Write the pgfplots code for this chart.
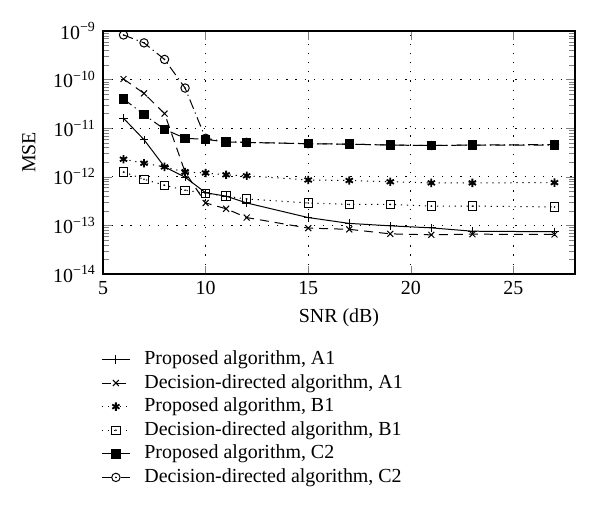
\documentclass[border=0pt]{standalone}
\usepackage{fontspec}
\setmainfont{Liberation Serif}
\usepackage{pgfplots}
\pgfplotsset{compat=1.18}

\pgfdeclareplotmark{sqdot}{%
  \pgfpathrectangle{\pgfpoint{-\pgfplotmarksize}{-\pgfplotmarksize}}{\pgfpoint{2\pgfplotmarksize}{2\pgfplotmarksize}}%
  \pgfusepathqstroke
  \pgfpathcircle{\pgfpointorigin}{0.45pt}\pgfusepathqfill}
\pgfdeclareplotmark{circdot}{%
  \pgfpathcircle{\pgfpointorigin}{\pgfplotmarksize}%
  \pgfusepathqstroke
  \pgfpathcircle{\pgfpointorigin}{0.45pt}\pgfusepathqfill}

\pgfplotsset{
  legend image code/.code={%
    \draw[mark repeat=2,mark phase=2,#1] plot coordinates {(0bp,0bp)(7bp,0bp)(14bp,0bp)};}
}

\begin{document}
\begin{tikzpicture}
\path[use as bounding box] (-51.5bp,-120bp) rectangle (248.5bp,137bp);
\begin{axis}[
  scale only axis,
  width=236bp, height=121.5bp,
  ymode=log,
  xmin=5, xmax=28,
  ymin=1e-14, ymax=1e-9,
  xtick={5,10,15,20,25},
  ytick={1e-14,1e-13,1e-12,1e-11,1e-10,1e-9},
  yticklabels={10\textsuperscript{\char"2212 14},10\textsuperscript{\char"2212 13},10\textsuperscript{\char"2212 12},10\textsuperscript{\char"2212 11},10\textsuperscript{\char"2212 10},10\textsuperscript{\char"2212 9}},
  /pgf/number format/assume math mode=true,
  grid=major,
  major grid style={black, line width=0.4pt, dash pattern=on 0.6pt off 4pt},
  axis line style={line width=0.7pt},
  xlabel={SNR (dB)},
  ylabel={MSE},
  ylabel style={xshift=0bp, yshift=2bp},
  every axis plot/.append style={black, line width=0.5pt, mark size=2.1bp},
  legend style={at={(0,0)}, anchor=north west, yshift=-38bp, xshift=-1bp,
    draw=none, fill=none, inner sep=0pt,
    nodes={inner sep=0pt, text height=7bp, text depth=2bp, anchor=west},
    row sep=2.8bp,
    /tikz/every odd column/.append style={column sep=7bp}},
  legend cell align=left,
]
\addplot[solid, mark=+, mark options={solid}] coordinates {
(6,1.6e-11) (7,5.8e-12) (8,1.6e-12) (9,9.8e-13) (10,4.7e-13) (11,4.0e-13) (12,2.9e-13)
(15,1.45e-13) (17,1.1e-13) (19,9.8e-14) (21,8.9e-14) (23,7.6e-14) (27,7.4e-14)};
\addlegendentry{Proposed algorithm, A1}
\addplot[dash pattern=on 4.5bp off 3bp, mark=x, mark options={solid}] coordinates {
(6,1.03e-10) (7,5.2e-11) (8,2.0e-11) (9,1.25e-12) (10,2.9e-13) (11,2.2e-13) (12,1.45e-13)
(15,8.8e-14) (17,8.3e-14) (19,6.7e-14) (21,6.4e-14) (23,6.6e-14) (27,6.5e-14)};
\addlegendentry{Decision-directed algorithm, A1}
\addplot[dash pattern=on 0.6pt off 2.4pt, mark=asterisk, mark options={solid, line width=0.9pt}] coordinates {
(6,2.3e-12) (7,1.9e-12) (8,1.6e-12) (9,1.25e-12) (10,1.2e-12) (11,1.1e-12) (12,1.05e-12)
(15,8.6e-13) (17,8.4e-13) (19,7.9e-13) (21,7.5e-13) (23,7.5e-13) (27,7.6e-13)};
\addlegendentry{Proposed algorithm, B1}
\addplot[dash pattern=on 0.6pt off 2.4pt, mark=sqdot, mark options={solid}] coordinates {
(6,1.26e-12) (7,8.9e-13) (8,6.7e-13) (9,5.3e-13) (10,4.6e-13) (11,4.0e-13) (12,3.5e-13)
(15,2.9e-13) (17,2.7e-13) (19,2.7e-13) (21,2.5e-13) (23,2.5e-13) (27,2.4e-13)};
\addlegendentry{Decision-directed algorithm, B1}
\addplot[dash pattern=on 5bp off 2bp on 0.6pt off 2bp, mark=square*, mark options={solid}] coordinates {
(6,4.0e-11) (7,1.9e-11) (8,9.5e-12) (9,6.2e-12) (10,5.9e-12) (11,5.2e-12) (12,5.1e-12)
(15,4.8e-12) (17,4.7e-12) (19,4.5e-12) (21,4.4e-12) (23,4.5e-12) (27,4.5e-12)};
\addlegendentry{Proposed algorithm, C2}
\addplot[dash pattern=on 5bp off 2bp on 0.6pt off 2bp, mark=circdot, mark options={solid}] coordinates {
(6,8.3e-10) (7,5.7e-10) (8,2.6e-10) (9,6.7e-11) (10,6.2e-12) (11,5.3e-12) (12,5.1e-12)
(15,4.8e-12) (17,4.7e-12) (19,4.5e-12) (21,4.4e-12) (23,4.5e-12) (27,4.6e-12)};
\addlegendentry{Decision-directed algorithm, C2}
\end{axis}
\end{tikzpicture}
\end{document}
